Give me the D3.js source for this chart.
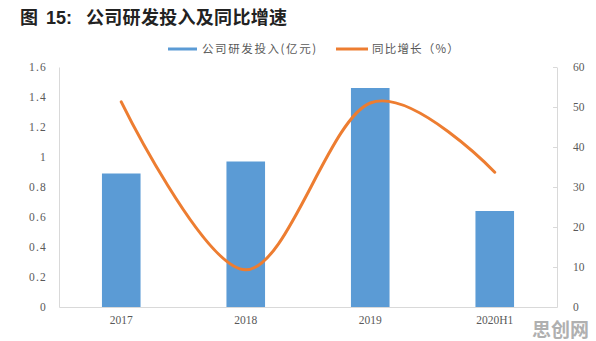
<!DOCTYPE html>
<html>
<head>
<meta charset="utf-8">
<script src="https://cdn.jsdelivr.net/npm/d3@7"></script>
<style>
  body { margin: 0; background: #fff; }
  svg { display: block; }
</style>
</head>
<body>
<svg id="chart" width="596" height="341"></svg>
<script>
const categories = ["2017", "2018", "2019", "2020H1"];
const rdSpend = [0.89, 0.97, 1.46, 0.64];      // 亿元
const yoyGrowth = [51.3, 9.3, 51.0, 33.7];     // %
const leftTicks = [0, 0.2, 0.4, 0.6, 0.8, 1, 1.2, 1.4, 1.6];
const rightTicks = [0, 10, 20, 30, 40, 50, 60];

const width = 596, height = 341;
const m = { left: 59, right: 557, top: 67, bottom: 307 };
const svg = d3.select("#chart");

// title
const title = svg.append("g").attr("font-family", "'Noto Sans CJK SC', sans-serif")
  .attr("font-weight", "bold").attr("fill", "#222");
title.append("text").attr("x", 20).attr("y", 24).attr("font-size", 18).text("图");
title.append("text").attr("x", 46).attr("y", 24).attr("font-size", 18)
  .attr("font-family", "Arial, 'Liberation Sans', sans-serif").text("15:");
title.append("text").attr("x", 86).attr("y", 24).attr("font-size", 18)
  .attr("letter-spacing", 0.3).text("公司研发投入及同比增速");

let x = d3.scaleBand().domain(categories).range([m.left, m.right]).paddingInner(0.69).paddingOuter(0.345);
let xc = d => x(d) + x.bandwidth() / 2;
let yL = d3.scaleLinear().domain([0, 1.6]).range([m.bottom, m.top]);
let yR = d3.scaleLinear().domain([0, 60]).range([m.bottom, m.top]);

const serif = "'Liberation Serif', 'DejaVu Serif', serif";

// left axis
let leftAxis = svg.append("g").attr("transform", `translate(${m.left},0)`)
  .call(d3.axisLeft(yL).tickValues(leftTicks).tickSize(0).tickPadding(12)
    .tickFormat(d => d === 0 || d === 1 ? String(d) : d3.format(".1f")(d)));
leftAxis.select(".domain").attr("stroke", "#d9d9d9");
leftAxis.selectAll("text").attr("font-family", serif).attr("font-size", 11.5)
  .attr("fill", "#595959").attr("letter-spacing", 1.2);

// right axis
let rightAxis = svg.append("g").attr("transform", `translate(${m.right},0)`)
  .call(d3.axisRight(yR).tickValues(rightTicks).tickSizeInner(-4).tickSizeOuter(0).tickPadding(16));
rightAxis.select(".domain").attr("stroke", "#d9d9d9");
rightAxis.selectAll("line").attr("stroke", "#d9d9d9");
rightAxis.selectAll("text").attr("font-family", serif).attr("font-size", 11.5).attr("fill", "#595959");

// bottom axis
let bottomAxis = svg.append("g").attr("transform", `translate(0,${m.bottom})`)
  .call(d3.axisBottom(x).tickSize(0).tickPadding(9));
bottomAxis.select(".domain").attr("stroke", "#d9d9d9");
bottomAxis.selectAll("text").attr("font-family", serif).attr("font-size", 11.5).attr("fill", "#595959");

// bars
svg.append("g").selectAll("rect").data(rdSpend).join("rect")
  .attr("x", (d, i) => x(categories[i]))
  .attr("y", d => yL(d))
  .attr("width", x.bandwidth())
  .attr("height", d => m.bottom - yL(d))
  .attr("fill", "#5B9BD5");

// smoothed growth line
let line = d3.line().x((d, i) => xc(categories[i])).y(d => yR(d)).curve(d3.curveCardinal.tension(0));
svg.append("path").datum(yoyGrowth).attr("d", line)
  .attr("fill", "none").attr("stroke", "#ED7D31").attr("stroke-width", 3).attr("stroke-linecap", "round");

// legend
const lg = svg.append("g").attr("font-family", "'Noto Sans CJK SC', sans-serif")
  .attr("font-size", 11.5).attr("fill", "#595959");
lg.append("line").attr("x1", 168).attr("x2", 197).attr("y1", 49).attr("y2", 49)
  .attr("stroke", "#5B9BD5").attr("stroke-width", 3);
lg.append("text").attr("x", 202).attr("y", 53).attr("letter-spacing", 1.6).text("公司研发投入(亿元)");
lg.append("line").attr("x1", 336).attr("x2", 368).attr("y1", 49).attr("y2", 49)
  .attr("stroke", "#ED7D31").attr("stroke-width", 3);
lg.append("text").attr("x", 372).attr("y", 53).attr("letter-spacing", 1.2).text("同比增长（%）");

// watermark
svg.append("text").attr("x", 532).attr("y", 337).attr("font-family", "'Noto Sans CJK SC', sans-serif")
  .attr("font-weight", "bold").attr("font-size", 19).attr("fill", "#b0b0b0").text("思创网");
</script>
</body>
</html>
